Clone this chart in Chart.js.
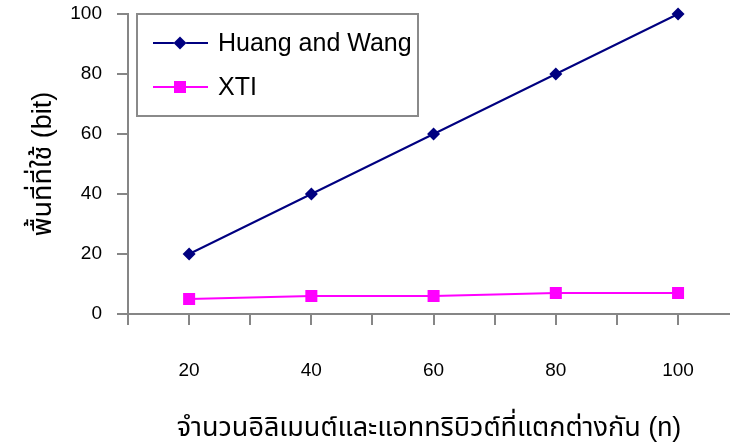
<!DOCTYPE html>
<html>
<head>
<meta charset="utf-8">
<script src="https://cdn.jsdelivr.net/npm/chart.js@4/dist/chart.umd.min.js"></script>
<style>
  html, body { margin: 0; padding: 0; background: #ffffff; }
  #wrap { width: 730px; height: 445px; position: relative; }
</style>
</head>
<body>
<div id="wrap"><canvas id="c" width="730" height="445"></canvas></div>
<script>
// Number of distinct elements and attributes (n)
const sizes = [20, 40, 60, 80, 100];
// Space used (bits) per scheme
const huangWang = [20, 40, 60, 80, 100];
const xti = [5, 6, 6, 7, 7];
// Axis ticks
const xTickValues = [10, 20, 30, 40, 50, 60, 70, 80, 90, 100];
const xLabelValues = [20, 40, 60, 80, 100];
const yTickValues = [0, 20, 40, 60, 80, 100];

const FONT = "'Liberation Sans', Arial, 'Noto Sans Thai', sans-serif";
const AXIS_GRAY = '#868686';

const toPoints = vals => sizes.map((x, i) => ({ x: x, y: vals[i] }));

// Boxed legend with a line-and-marker sample for each series
const boxLegend = {
  id: 'boxLegend',
  afterDraw(chart) {
    const ctx = chart.ctx;
    ctx.save();
    ctx.fillStyle = '#ffffff';
    ctx.fillRect(137, 14, 281, 102);
    ctx.strokeStyle = '#8a8a8a';
    ctx.lineWidth = 2;
    ctx.strokeRect(137, 14, 281, 102);
    const rows = [43, 87];
    chart.data.datasets.forEach((ds, i) => {
      const y = rows[i];
      ctx.strokeStyle = ds.borderColor;
      ctx.lineWidth = ds.borderWidth;
      ctx.beginPath();
      ctx.moveTo(153, y);
      ctx.lineTo(208, y);
      ctx.stroke();
      Chart.helpers.drawPoint(ctx, {
        pointStyle: ds.pointStyle,
        radius: ds.pointRadius,
        borderWidth: 0
      }, 180, y);
      ctx.fillStyle = ds.pointBackgroundColor;
      ctx.fill();
      ctx.fillStyle = '#000000';
      ctx.font = '25px ' + FONT;
      ctx.textBaseline = 'middle';
      ctx.textAlign = 'left';
      ctx.fillText(ds.label, 218, y + 1);
    });
    ctx.restore();
  }
};

new Chart(document.getElementById('c'), {
  type: 'line',
  data: {
    datasets: [
      {
        label: 'Huang and Wang',
        data: toPoints(huangWang),
        borderColor: '#000080',
        backgroundColor: '#000080',
        pointBackgroundColor: '#000080',
        pointBorderColor: '#000080',
        borderWidth: 2,
        pointStyle: 'rectRot',
        pointRadius: 6.5,
        pointBorderWidth: 0,
        tension: 0,
        clip: false
      },
      {
        label: 'XTI',
        data: toPoints(xti),
        borderColor: '#ff00ff',
        backgroundColor: '#ff00ff',
        pointBackgroundColor: '#ff00ff',
        pointBorderColor: '#ff00ff',
        borderWidth: 2,
        pointStyle: 'rect',
        pointRadius: 8.5,
        pointBorderWidth: 0,
        tension: 0,
        clip: false
      }
    ]
  },
  options: {
    responsive: false,
    animation: false,
    devicePixelRatio: 1,
    layout: { autoPadding: false, padding: { top: 14, right: 0, left: 0, bottom: 0 } },
    plugins: {
      legend: { display: false },
      tooltip: { enabled: false }
    },
    scales: {
      x: {
        type: 'linear',
        min: 10,
        max: 108.5,
        afterBuildTicks: s => { s.ticks = xTickValues.map(v => ({ value: v })); },
        afterFit: s => { s.height = 131; s.paddingLeft = 0; s.paddingRight = 0; },
        border: { display: true, color: AXIS_GRAY, width: 2 },
        grid: { drawOnChartArea: false, drawTicks: true, tickLength: 11, color: AXIS_GRAY, lineWidth: 2 },
        ticks: {
          autoSkip: false,
          maxRotation: 0,
          padding: 34,
          color: '#000000',
          font: { family: FONT, size: 19 },
          callback: v => (xLabelValues.includes(v) ? String(v) : '')
        },
        title: {
          display: true,
          text: 'จำนวนอิลิเมนต์และแอททริบิวต์ที่แตกต่างกัน (n)',
          color: '#000000',
          font: { family: FONT, size: 27 },
          padding: { top: 0, bottom: 0 }
        }
      },
      y: {
        type: 'linear',
        min: 0,
        max: 100,
        afterBuildTicks: s => { s.ticks = yTickValues.map(v => ({ value: v })); },
        afterFit: s => { s.width = 128; s.paddingTop = 0; s.paddingBottom = 0; },
        border: { display: true, color: AXIS_GRAY, width: 2 },
        grid: { drawOnChartArea: false, drawTicks: true, tickLength: 11, color: AXIS_GRAY, lineWidth: 2 },
        ticks: {
          padding: 15,
          color: '#000000',
          font: { family: FONT, size: 19 }
        },
        title: {
          display: true,
          text: 'พื้นที่ที่ใช้ (bit)',
          color: '#000000',
          font: { family: FONT, size: 27 },
          padding: { top: 27, bottom: 0 }
        }
      }
    }
  },
  plugins: [boxLegend]
});
</script>
</body>
</html>
